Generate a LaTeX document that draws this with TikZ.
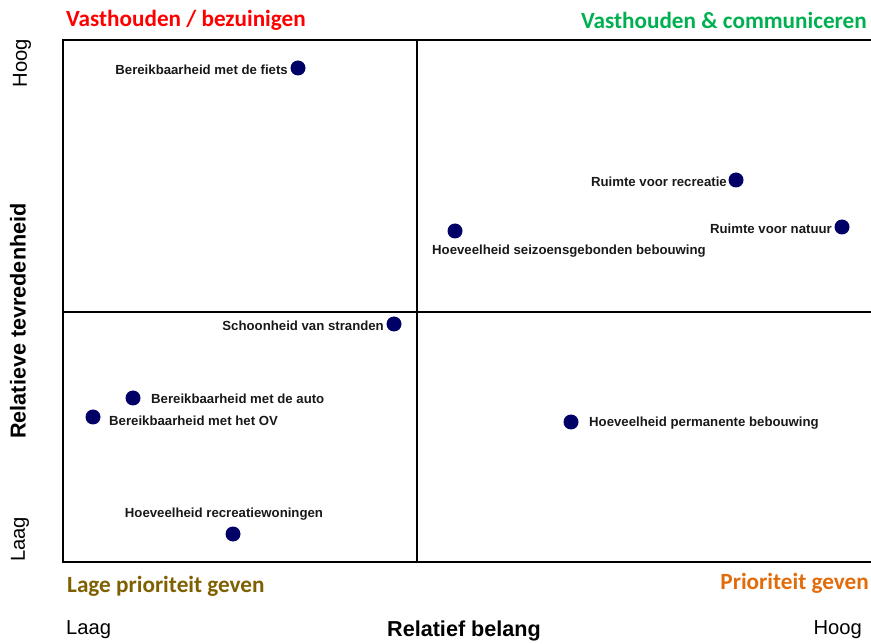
\documentclass[tikz,border=0pt]{standalone}
\usepackage{fontspec}
\setmainfont{Liberation Sans}
\newfontfamily\calib{Carlito}
\definecolor{dotnavy}{HTML}{000066}
\definecolor{qred}{HTML}{FF0000}
\definecolor{qgreen}{HTML}{00B050}
\definecolor{qolive}{HTML}{7F6000}
\definecolor{qorange}{HTML}{E26B0A}
\tikzset{
  dot/.style={circle,fill=dotnavy,draw=none,minimum size=15pt,inner sep=0pt},
  lbl/.style={font=\fontsize{13.2}{15}\selectfont\bfseries,inner sep=0pt,text=black!90},
  quad/.style={font=\calib\fontsize{23.2}{27}\selectfont\bfseries,inner sep=0pt},
  axl/.style={font=\fontsize{20.2}{24}\selectfont,inner sep=0pt},
  axt/.style={font=\fontsize{21.6}{25}\selectfont\bfseries,inner sep=0pt},
  frame/.style={line width=1.5pt,black}
}
\begin{document}
\begin{tikzpicture}[x=1pt,y=-1pt]
\useasboundingbox (0,0) rectangle (871,644);
% frame
\coordinate (tl) at (63,40);
\coordinate (tr) at (871,40);
\coordinate (bl) at (63,562);
\coordinate (br) at (871,562);
\coordinate (mt) at (417,40);
\coordinate (mb) at (417,562);
\coordinate (ml) at (63,312);
\coordinate (mr) at (871,312);
\draw[frame] (tr) -- (tl) -- (bl) -- (br);
\draw[frame] (mt) -- (mb);
\draw[frame] (ml) -- (mr);
% quadrant titles
\node[quad,text=qred,anchor=west] (q1) at (66,20) {Vasthouden / bezuinigen};
\node[quad,text=qgreen,anchor=east] (q2) at (867,20) {Vasthouden \& communiceren};
\node[quad,text=qolive,anchor=west] (q3) at (67,586) {Lage prioriteit geven};
\node[quad,text=qorange,anchor=east] (q4) at (869,583) {Prioriteit geven};
% axes
\node[axl,anchor=west] (xlo) at (66,630) {Laag};
\node[axt] (xt) at (464,631) {Relatief belang};
\node[axl,anchor=east] (xhi) at (862,630) {Hoog};
\node[axl,rotate=90,anchor=east] (yhi) at (22,39) {Hoog};
\node[axt,rotate=90] (yt) at (18,321) {Relatieve tevredenheid};
\node[axl,rotate=90,anchor=west] (ylo) at (20,562) {Laag};
% points
\node[dot] (p1) at (298,68) {};
\node[lbl,anchor=east] (l1) at (288,70) {Bereikbaarheid met de fiets};
\node[dot] (p2) at (736,180) {};
\node[lbl,anchor=east] (l2) at (727,182) {Ruimte voor recreatie};
\node[dot] (p3) at (842,227) {};
\node[lbl,anchor=east] (l3) at (832,229) {Ruimte voor natuur};
\node[dot] (p4) at (455,231) {};
\node[lbl,anchor=west] (l4) at (432,251) {Hoeveelheid seizoensgebonden bebouwing};
\node[dot] (p5) at (394,324) {};
\node[lbl,anchor=east] (l5) at (384,326) {Schoonheid van stranden};
\node[dot] (p6) at (133,398) {};
\node[lbl,anchor=west] (l6) at (151,399) {Bereikbaarheid met de auto};
\node[dot] (p7) at (93,417) {};
\node[lbl,anchor=west] (l7) at (109,421) {Bereikbaarheid met het OV};
\node[dot] (p8) at (571,422) {};
\node[lbl,anchor=west] (l8) at (589,423) {Hoeveelheid permanente bebouwing};
\node[dot] (p9) at (233,534) {};
\node[lbl] (l9) at (224,514) {Hoeveelheid recreatiewoningen};
\end{tikzpicture}
\end{document}
